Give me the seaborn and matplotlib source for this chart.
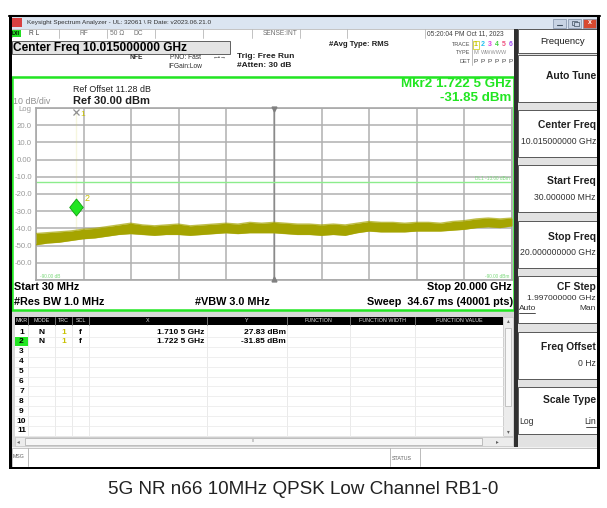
import numpy as np
import pandas as pd
import matplotlib
matplotlib.use("Agg")
import matplotlib.pyplot as plt
from matplotlib.patches import Rectangle
from matplotlib.path import Path
import seaborn as sns

# ---------------- data ----------------
freq_ghz = [0.03, 0.5, 1.0, 1.5, 2.0, 2.5, 3.0, 3.5, 4.0, 4.5, 5.0, 5.5, 6.0, 6.5,
            7.0, 7.5, 8.0, 8.5, 9.0, 9.5, 10.0, 10.5, 11.0, 11.5, 12.0, 12.5, 13.0,
            13.5, 14.0, 14.5, 15.0, 15.5, 16.0, 16.5, 17.0, 17.5, 18.0, 18.5, 19.0,
            19.5, 20.0]
trace_upper_dbm = [-43.0, -42.5, -42.0, -41.5, -40.5, -40.0, -39.0, -38.0, -37.0, -38.0,
                   -38.5, -38.0, -37.5, -38.5, -38.0, -37.5, -37.0, -37.5, -36.5, -37.0,
                   -36.5, -37.0, -37.5, -37.5, -38.0, -37.5, -38.0, -37.0, -36.0, -36.5,
                   -36.5, -37.0, -36.5, -36.5, -37.0, -36.0, -35.5, -34.5, -34.0, -34.5,
                   -34.0]
trace_lower_dbm = [-49.5, -48.5, -48.0, -47.0, -46.0, -45.5, -44.5, -43.5, -43.0, -43.5,
                   -44.0, -43.5, -43.5, -44.0, -43.5, -43.0, -42.5, -43.0, -42.5, -42.5,
                   -42.5, -43.0, -43.5, -43.5, -44.0, -43.5, -44.0, -42.5, -41.5, -42.0,
                   -42.0, -42.0, -41.5, -41.5, -41.5, -41.0, -40.5, -39.5, -39.0, -39.5,
                   -38.5]
spike_freq_ghz = [1.7105, 1.7105]
spike_level_dbm = [-42.0, 27.83]
marker_names = ["1", "2"]
marker_freq_ghz = [1.7105, 1.7225]
marker_level_dbm = [27.83, -31.85]
marker_x_text = ["1.710 5 GHz", "1.722 5 GHz"]
marker_y_text = ["27.83 dBm", "-31.85 dBm"]
start_ghz, stop_ghz = 0.03, 20.0
center_ghz = 10.015
ref_dbm, bottom_dbm = 30.0, -70.0
display_line_dbm = -13.0
y_tick_labels = ["", "-60.0", "-50.0", "-40.0", "-30.0", "-20.0", "-10.0",
                 "0.00", "10.0", "20.0", "Log"]
table_headers = ["MKR", "MODE", "TRC", "SCL", "X", "Y", "FUNCTION",
                 "FUNCTION WIDTH", "FUNCTION VALUE"]
softkeys = [("Center Freq", "10.015000000 GHz"), ("Start Freq", "30.000000 MHz"),
            ("Stop Freq", "20.000000000 GHz"), ("CF Step", "1.997000000 GHz"),
            ("Freq Offset", "0 Hz"), ("Scale Type", "")]
caption = "5G NR n66 10MHz QPSK Low Channel RB1-0"

# ---------------- style ----------------
sns.set_theme(style="white")
plt.rcParams['font.family'] = ['Liberation Sans', 'DejaVu Sans']

W, H = 607, 508
fig = plt.figure(figsize=(W / 100, H / 100), dpi=100)
fig.patch.set_facecolor("white")

bg = fig.add_axes([0, 0, 1, 1])
bg.set_xlim(0, W)
bg.set_ylim(H, 0)
bg.axis("off")
bg.set_zorder(0)


def rect(x0, y0, x1, y1, fc="none", ec="none", lw=0.0, z=1):
    bg.add_patch(Rectangle((x0, y0), x1 - x0, y1 - y0, facecolor=fc,
                           edgecolor=ec, linewidth=lw, zorder=z))


def txt(x, y, s, size=6, ha="left", color="black", weight="normal", z=5, **kw):
    bg.text(x, y, s, fontsize=size, ha=ha, va="center", color=color,
            weight=weight, zorder=z, **kw)


GREEN = "#22e622"
OLIVE = "#a5a400"

# window frame
rect(9, 15, 600, 469, fc="#f2f2f2", ec="none", z=0.5)
# title bar
rect(9, 15, 600, 29, fc="#dbe5f1", z=1)
bg.plot([9, 600], [15.5, 15.5], color="black", lw=1.5, zorder=2)
rect(12, 18, 22, 27, fc="#d84040", z=2)
txt(27, 22.5, r"Keysight Spectrum Analyzer - UL: 32061 \ R Date: v2023.06.21.0",
    size=4.6, color="#303030")
for i, c in enumerate(["#c8d4e4", "#c8d4e4", "#d84a30"]):
    rect(553 + i * 15, 18.5, 566 + i * 15, 27.5, fc=c, ec="#8090a8", lw=0.5, z=2)
bg.plot([557, 562], [25, 25], color="#405060", lw=0.8, zorder=3)
rect(572, 20.5, 577, 24.5, ec="#405060", lw=0.5, z=3)
rect(573.5, 22, 578.5, 26, fc="#c8d4e4", ec="#405060", lw=0.5, z=3.1)
txt(589.5, 23, "x", size=5, ha="center", color="white", weight="bold")

# status row
rect(12, 29, 515, 37.5, fc="white", ec="#b0b0b0", lw=0.5, z=1)
rect(11, 29.5, 21, 37, fc="#22dd22", z=2)
txt(16, 33.3, "LXI", size=3.6, ha="center", weight="bold")
for xd in [59, 107, 155, 203, 252, 300, 347, 425]:
    bg.plot([xd, xd], [29, 37.5], color="#b8b8b8", lw=0.6, zorder=2)
txt(29, 33.3, "R L", size=4.8, color="#404040")
txt(80, 33.3, "RF", size=4.8, color="#707070")
txt(110, 33.3, "50 Ω", size=4.8, color="#707070")
txt(134, 33.3, "DC", size=4.8, color="#707070")
txt(263, 33.3, "SENSE:INT", size=4.8, color="#707070")
txt(427, 33.3, "05:20:04 PM Oct 11, 2023", size=4.8, color="#404040")

# header area
rect(12, 37.5, 515, 76, fc="white", z=1)
rect(12, 40.5, 230, 53.5, fc="#e4e4e4", ec="#606060", lw=0.7, z=2)
txt(13, 47.5, "Center Freq 10.015000000 GHz", size=8.6, weight="bold", z=3)
txt(130, 57.5, "NFE", size=4.8, weight="bold", color="#303030")
txt(170, 57.5, "PNO: Fast", size=4.8, color="#303030")
txt(213, 57.5, "←•→", size=4.2, color="#303030")
txt(168, 66.5, "IFGain:Low", size=4.8, color="#303030")
txt(237, 56, "Trig: Free Run", size=6.0, weight="bold", color="#202020")
txt(237, 65.5, "#Atten: 30 dB", size=6.0, weight="bold", color="#202020")
txt(329, 44.5, "#Avg Type: RMS", size=5.6, weight="bold", color="#202020")
txt(470, 44.5, "TRACE", size=4.0, ha="right", color="#505050")
txt(470, 53, "TYPE", size=4.0, ha="right", color="#505050")
txt(470, 61.5, "DET", size=4.0, ha="right", color="#505050")
bg.plot([472, 472], [39, 65], color="#a0a0a0", lw=0.5, zorder=2)
trace_cols = ["#c8c800", "#20c0f0", "#e040e0", "#40d040", "#f05080", "#a050f0"]
for i, c in enumerate(trace_cols):
    xd = 476 + i * 6.9
    txt(xd, 44.5, str(i + 1), size=5.0, ha="center", color=c, weight="bold")
    txt(xd, 61.5, "P", size=4.6, ha="center", color="#404040")
rect(473, 40.5, 479, 48.5, fc="none", ec="#c8c800", lw=0.5, z=3)
txt(476, 53, "M", size=4.2, ha="center", color="#909090")
txt(481, 53, "WWWWW", size=4.0, color="#909090")

# plot frame (green)
rect(12, 76.5, 513.5, 309.5, fc="white", ec=GREEN, lw=1.8, z=1)
txt(73, 90, "Ref Offset 11.28 dB", size=6.4, color="#202020")
txt(73, 101, "Ref 30.00 dBm", size=8.0, weight="bold", color="#202020")
txt(13, 102, "10 dB/div", size=6.4, color="#909090")
txt(511, 84, "Mkr2 1.722 5 GHz", size=9.6, ha="right", weight="bold", color=GREEN)
txt(511, 98, "-31.85 dBm", size=9.6, ha="right", weight="bold", color=GREEN)
txt(14, 287.5, "Start 30 MHz", size=7.8, weight="bold")
txt(512, 287.5, "Stop 20.000 GHz", size=7.8, ha="right", weight="bold")
txt(14, 302, "#Res BW 1.0 MHz", size=7.8, weight="bold")
txt(195, 302, "#VBW 3.0 MHz", size=7.8, weight="bold")
txt(513, 302, "Sweep  34.67 ms (40001 pts)", size=7.8, ha="right", weight="bold")

# marker table
rect(12, 311, 515, 447, fc="#d8d8d8", z=0.8)
rect(15, 316.5, 503, 436, fc="white", z=1)
rect(15, 316.5, 503, 324.5, fc="black", z=2)
cols = [15, 28, 55, 72, 89, 207, 287, 350, 415, 503]
for i, h in enumerate(table_headers):
    txt((cols[i] + cols[i + 1]) / 2, 320.6, h, size=3.9, ha="center", color="#e0e0e0", z=3)
    if i > 0:
        bg.plot([cols[i], cols[i]], [316.5, 436], color="#e6e6e6", lw=0.6, zorder=1.5)
        bg.plot([cols[i], cols[i]], [316.5, 324.5], color="#808080", lw=0.6, zorder=2.5)
for r in range(11):
    yc = 332.0 + 9.9 * r
    bg.plot([15, 503], [yc + 4.95, yc + 4.95], color="#ececec", lw=0.6, zorder=1.5)
    if r == 1:
        rect(15, yc - 4.5, 28, yc + 4.5, fc=GREEN, z=2)
    txt(21.5, yc, str(r + 1), size=6.0, ha="center", weight="bold", z=3)
for r, name in enumerate(marker_names):
    yc = 332.0 + 9.9 * r
    txt(41.5, yc, "N", size=6.0, ha="center", weight="bold")
    txt(63.5, yc, "1", size=6.0, ha="center", weight="bold", color="#c8c000")
    txt(80.5, yc, "f", size=6.0, ha="center", weight="bold")
    txt(204, yc, marker_x_text[r], size=6.0, ha="right", weight="bold")
    txt(286, yc, marker_y_text[r], size=6.0, ha="right", weight="bold")
# scrollbars
rect(503, 316.5, 513, 436, fc="#ececec", ec="#c0c0c0", lw=0.4, z=1)
rect(505, 328, 511, 406, fc="#f8f8f8", ec="#b0b0b0", lw=0.5, z=2)
txt(508, 320.5, "▴", size=4, ha="center", color="#606060")
txt(508, 432, "▾", size=4, ha="center", color="#606060")
rect(15, 436.5, 513, 446, fc="#ececec", ec="#c0c0c0", lw=0.4, z=1)
rect(25, 437.5, 482, 445, fc="#f6f6f6", ec="#a8a8a8", lw=0.5, z=2)
txt(253, 441.3, "III", size=3, ha="center", color="#808080")
txt(18, 441.3, "◂", size=4, ha="center", color="#606060")
txt(497, 441.3, "▸", size=4, ha="center", color="#606060")
# message bar
rect(12, 447.5, 597, 466.5, fc="white", ec="#b0b0b0", lw=0.5, z=1)
bg.plot([28, 28], [448, 466], color="#b0b0b0", lw=0.6, zorder=2)
bg.plot([390, 390], [448, 466], color="#b0b0b0", lw=0.6, zorder=2)
bg.plot([420, 420], [448, 466], color="#b0b0b0", lw=0.6, zorder=2)
txt(13, 457, "MSG", size=3.8, color="#606060")
txt(392, 459, "STATUS", size=3.8, color="#606060")

# separators and borders
rect(513.5, 29, 517.5, 447, fc="#303030", z=2)
rect(9, 15, 12, 469, fc="black", z=3)
rect(597, 15, 600, 469, fc="black", z=3)
rect(9, 466.5, 600, 469, fc="black", z=3)

# right softkey panel
rect(517.5, 29, 597, 447, fc="#e2e2e2", z=1)
rect(517.5, 29, 597, 53, fc="white", ec="#404040", lw=0.6, z=1.5)
txt(563, 42, "Frequency", size=6.8, ha="center", color="#202020")
rect(517.5, 55, 597, 102, fc="white", ec="#404040", lw=0.6, z=1.5)
txt(596, 76, "Auto Tune", size=7.4, ha="right", weight="bold", color="#202020")
for i, (title, value) in enumerate(softkeys):
    top = 109.5 + i * 55.5
    rect(517.5, top, 597, top + 47, fc="white", ec="#404040", lw=0.6, z=1.5)
    if title == "CF Step":
        txt(596, top + 11.5, title, size=7.4, ha="right", weight="bold", color="#202020")
        txt(596, top + 22.5, value, size=6.0, ha="right", color="#303030")
        txt(519, top + 32, "Auto", size=6.0, color="#303030")
        txt(596, top + 32, "Man", size=6.0, ha="right", color="#303030")
        bg.plot([519, 535], [top + 36.5, top + 36.5], color="#303030", lw=0.6, zorder=3)
    elif title == "Scale Type":
        txt(596, top + 13, title, size=7.4, ha="right", weight="bold", color="#202020")
        txt(519, top + 35, "Log", size=6.2, color="#303030")
        txt(596, top + 35, "Lin", size=6.2, ha="right", color="#303030")
        bg.plot([586, 596], [top + 39.5, top + 39.5], color="#303030", lw=0.6, zorder=3)
    else:
        txt(596, top + 16, title, size=7.4, ha="right", weight="bold", color="#202020")
        txt(596, top + 32, value, size=6.2, ha="right", color="#303030")

# caption
txt(303.5, 490, caption, size=13.6, ha="center", color="#222222")

# ---------------- spectrum axes ----------------
L, T, R, B = 36, 108, 512, 280
ax = fig.add_axes([L / W, (H - B) / H, (R - L) / W, (B - T) / H])
ax.set_zorder(3)
ax.set_facecolor("white")
ax.set_xlim(start_ghz, stop_ghz)
ax.set_ylim(bottom_dbm, ref_dbm)
ax.set_xticks(np.linspace(start_ghz, stop_ghz, 11))
ax.set_yticks(np.arange(bottom_dbm, ref_dbm + 1, 10))
ax.set_xticklabels([])
ax.set_yticklabels(y_tick_labels)
ax.tick_params(axis="both", length=0)
ax.tick_params(axis="y", pad=3, labelsize=5.6, labelcolor="#9a9a9a")
ax.grid(True, color="#b0b0b0", lw=1.1)
for s in ax.spines.values():
    s.set_color("#a8a8a8")
    s.set_linewidth(1.2)
ax.axvline(center_ghz, color="#8a8a8a", lw=1.0, zorder=1)
ax.plot([center_ghz], [ref_dbm - 0.8], marker="v", ms=3.5, color="#808080", clip_on=False, zorder=4)
ax.plot([center_ghz], [bottom_dbm + 0.8], marker="^", ms=3.5, color="#808080", clip_on=False, zorder=4)

# display line
ax.axhline(display_line_dbm, color="#8cec8c", lw=1.0, zorder=2)
ax.text(stop_ghz - 0.1, display_line_dbm + 0.3, "DL1 -13.00 dBm", fontsize=3.4,
        ha="right", va="bottom", color="#7ad87a")
ax.text(stop_ghz - 0.1, bottom_dbm + 0.3, "-90.00 dBm", fontsize=3.4,
        ha="right", va="bottom", color="#7ad87a")
ax.text(start_ghz + 0.15, bottom_dbm + 0.3, "-90.00 dB", fontsize=3.4,
        ha="left", va="bottom", color="#7ad87a")

# trace
df = pd.DataFrame({"f": freq_ghz, "hi": trace_upper_dbm, "lo": trace_lower_dbm})
ax.fill_between(df["f"], df["lo"], df["hi"], color=OLIVE, lw=0, zorder=3)
sns.lineplot(data=df, x="f", y="hi", ax=ax, color=OLIVE, lw=1.0, alpha=0.7, zorder=3)
sns.lineplot(data=df, x="f", y="lo", ax=ax, color=OLIVE, lw=1.0, alpha=0.7, zorder=3)
sns.lineplot(x=spike_freq_ghz, y=spike_level_dbm, ax=ax, color="#d4d45a", lw=1.1, zorder=3)
ax.set_xlabel("")
ax.set_ylabel("")

# markers
ax.plot([marker_freq_ghz[0]], [marker_level_dbm[0]], marker="x", ms=4, mew=0.9,
        color="#909090", zorder=5, clip_on=False)
ax.text(marker_freq_ghz[0] + 0.18, marker_level_dbm[0] - 1.5, marker_names[0],
        fontsize=6, color="#c8c000", ha="left", va="center", zorder=5)
diamond = Path([(0, -1), (0.8, 0), (0, 1), (-0.8, 0), (0, -1)],
               [Path.MOVETO, Path.LINETO, Path.LINETO, Path.LINETO, Path.CLOSEPOLY])
mdf = pd.DataFrame({"f": [marker_freq_ghz[1]], "y": [marker_level_dbm[1] + 4.2]})
sns.scatterplot(data=mdf, x="f", y="y", ax=ax, marker=diamond, s=150, color="#22e622",
                edgecolor="#10a010", linewidth=0.6, zorder=6)
ax.text(marker_freq_ghz[1] + 0.33, marker_level_dbm[1] + 9.5, marker_names[1],
        fontsize=6.5, color="#c8c000", ha="left", va="center", zorder=6)
ax.set_xlabel("")
ax.set_ylabel("")

fig.savefig("out.png", dpi=100)
